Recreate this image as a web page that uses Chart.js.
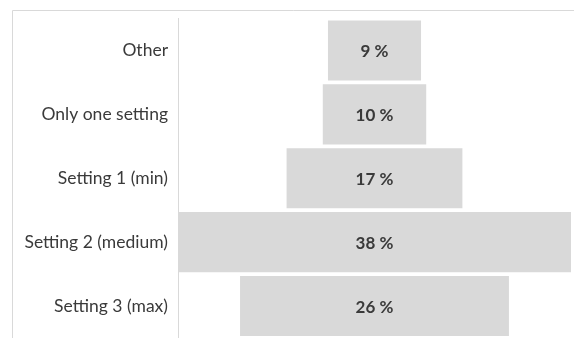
<!DOCTYPE html>
<html>
<head>
<meta charset="utf-8">
<script src="https://cdn.jsdelivr.net/npm/chart.js@4"></script>
<style>
  html, body { margin: 0; padding: 0; background: #ffffff; }
  #wrap { width: 574px; height: 338px; position: relative; }
</style>
</head>
<body>
<div id="wrap"><canvas id="c" width="574" height="338"></canvas></div>
<script>
// Share of respondents by preferred setting
const categories = ['Other', 'Only one setting', 'Setting 1 (min)', 'Setting 2 (medium)', 'Setting 3 (max)'];
const shares = [9, 10, 17, 38, 26];
const valueLabels = ['9 %', '10 %', '17 %', '38 %', '26 %'];

// Each bar is centred on zero so the stack reads as a funnel
const halfRange = Math.max(...shares) / 2;
const floating = shares.map(v => [-v / 2, v / 2]);

const textColor = '#3a3a3a';
const barColor = '#d9d9d9';
const lineColor = '#d9d9d9';
const fontFamily = 'Lato, "Open Sans", sans-serif';

// Thin frame along the top and left edges of the panel
const framePlugin = {
  id: 'frame',
  beforeDraw(chart) {
    const ctx = chart.ctx;
    ctx.save();
    ctx.strokeStyle = lineColor;
    ctx.lineWidth = 1;
    ctx.beginPath();
    ctx.moveTo(12.5, 338);
    ctx.lineTo(12.5, 10.5);
    ctx.lineTo(574, 10.5);
    ctx.stroke();
    ctx.restore();
  }
};

// Value text in the middle of every bar
const valueLabelPlugin = {
  id: 'valueLabels',
  afterDatasetsDraw(chart) {
    const ctx = chart.ctx;
    const meta = chart.getDatasetMeta(0);
    ctx.save();
    ctx.fillStyle = textColor;
    ctx.font = 'bold 17px ' + fontFamily;
    ctx.textAlign = 'center';
    ctx.textBaseline = 'middle';
    meta.data.forEach((bar, i) => {
      const p = bar.getProps(['x', 'y', 'base'], true);
      ctx.fillText(valueLabels[i], (p.x + p.base) / 2, p.y + 1.5);
    });
    ctx.restore();
  }
};

new Chart(document.getElementById('c'), {
  type: 'bar',
  data: {
    labels: categories,
    datasets: [{
      data: floating,
      backgroundColor: barColor,
      borderWidth: 0,
      barPercentage: 0.94,
      categoryPercentage: 1
    }]
  },
  options: {
    indexAxis: 'y',
    responsive: false,
    animation: false,
    layout: { padding: { top: 18.5, bottom: 0, left: 0, right: 3 } },
    plugins: {
      legend: { display: false },
      tooltip: { enabled: false }
    },
    scales: {
      x: {
        display: false,
        min: -halfRange,
        max: halfRange
      },
      y: {
        grid: { display: false, drawTicks: false },
        border: { display: true, color: lineColor, width: 1 },
        ticks: {
          color: textColor,
          padding: 10,
          font: { family: fontFamily, size: 17.5 }
        },
        afterFit(scale) {
          scale.width = 178;
          scale.paddingTop = 0;
          scale.paddingBottom = 0;
        }
      }
    }
  },
  plugins: [framePlugin, valueLabelPlugin]
});
</script>
</body>
</html>
